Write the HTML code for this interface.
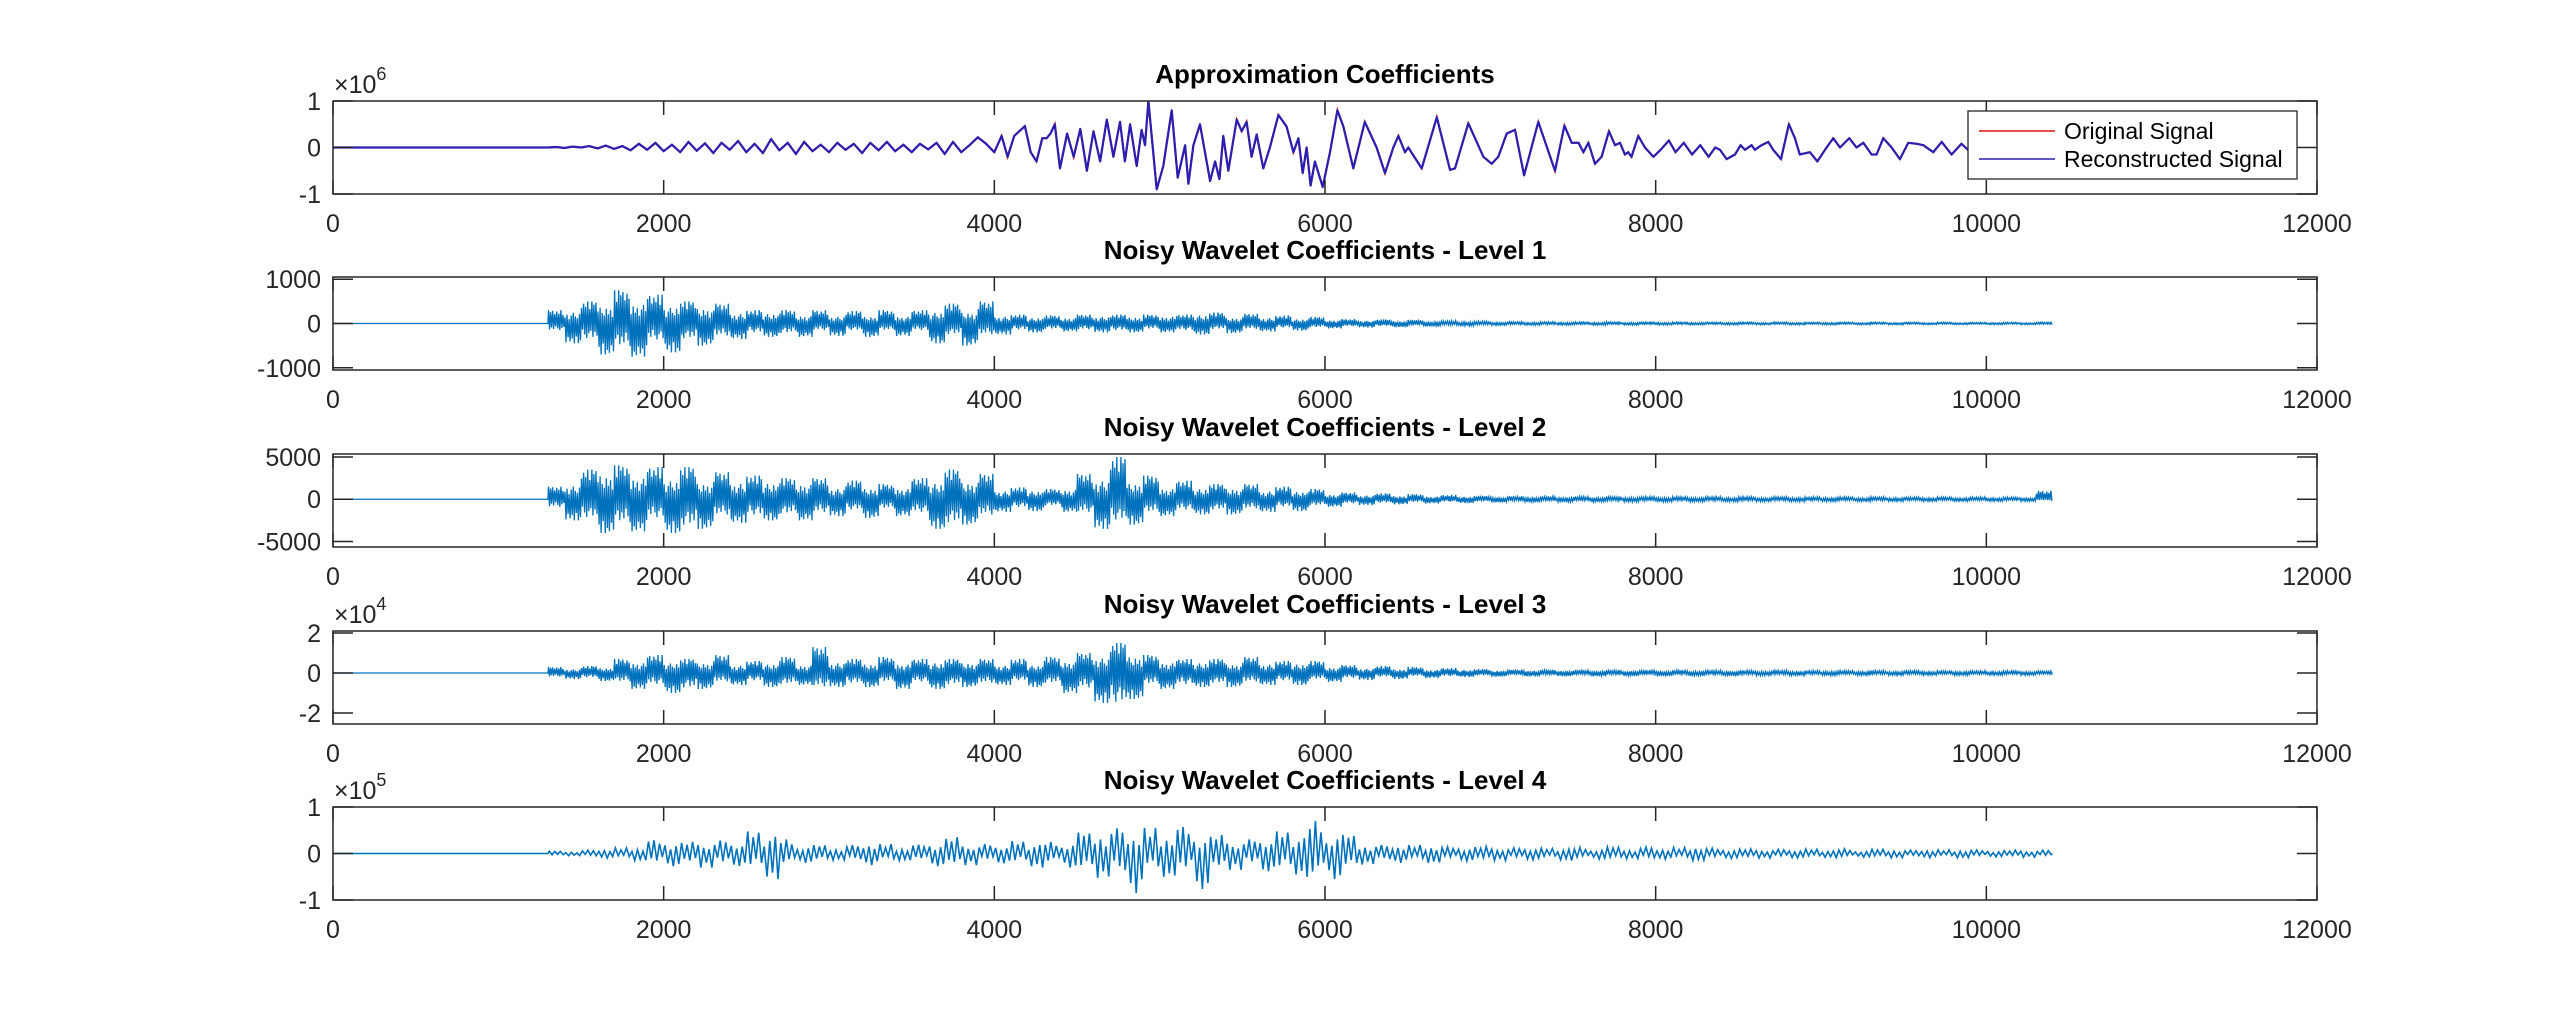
<!DOCTYPE html>
<html><head><meta charset="utf-8"><style>
html,body{margin:0;padding:0;background:#fff;}
svg{display:block;font-family:"Liberation Sans",Arial,sans-serif;}
</style></head><body>
<svg id="fig" width="2560" height="1024" viewBox="0 0 2560 1024" xmlns="http://www.w3.org/2000/svg">
<rect width="2560" height="1024" fill="#fff"/>
</svg>
<script>
// ---------- data ----------
const xTicks = [0,2000,4000,6000,8000,10000,12000];
const xTickLabels = ["0","2000","4000","6000","8000","10000","12000"];
const titles = ["Approximation Coefficients","Noisy Wavelet Coefficients - Level 1","Noisy Wavelet Coefficients - Level 2","Noisy Wavelet Coefficients - Level 3","Noisy Wavelet Coefficients - Level 4"];
const yLims = [[-1,1],[-1050,1050],[-5650,5350],[-2.55,2.1],[-1,1]];
const yTicks = [[-1,0,1],[-1000,0,1000],[-5000,0,5000],[-2,0,2],[-1,0,1]];
const yTickLabels = [["-1","0","1"],["-1000","0","1000"],["-5000","0","5000"],["-2","0","2"],["-1","0","1"]];
const exponents = ["6",null,null,"4","5"];
const legendLabels = ["Original Signal","Reconstructed Signal"];

// approximation coefficients (x sample, value ×1e6)
const apX = [0,1250,1300,1350,1400,1450,1500,1550,1600,1650,1700,1750,
1800,1850,1900,1950,2000,2050,2100,2150,2200,2250,2300,2350,2400,2450,2500,
2550,2600,2650,2700,2750,2800,2850,2900,2950,3000,3050,3100,3150,3200,3250,3300,3350,3400,3450,3500,3550,3600,
3650,3700,3750,3800,3850,3900,3950,4000,
4044,4080,4120,4185,4220,4255,4290,4316,4340,4366,4397,4440,4480,4520,4560,4600,4640,4680,4720,4760,4790,
4821,4861,4891,4911,4932,4982,5022,5073,5109,5154,5174,5204,5244,5305,5335,5361,5385,5415,5466,5496,5526,5556,5587,5627,5667,5718,5768,5809,5839,5865,5889,5913,5939,5986,6030,6075,6111,6171,6241,6312,6363,6413,6444,6484,6504,6585,6676,6756,6786,6867,6958,7008,7048,7099,7149,7204,7290,7391,7448,7492,7533,7563,7593,7633,7673,7718,7754,7784,7814,7834,7854,7895,7935,7986,
8030,8080,8120,8170,8220,8270,8320,8360,
8389,8429,8480,8514,8540,8580,8600,8640,8681,8711,8758,8806,8842,8872,8933,8978,9024,9074,9115,9171,9215,9256,9306,9336,9377,9427,9477,9528,9578,9619,9679,9730,9790,9850,9910,9970,10030,10090,10150,10210,10270,10330,10400];
const apY = [0,0,0,0.01,-0.01,0.02,0,0.03,-0.02,0.04,-0.03,0.03,
-0.06,0.08,-0.05,0.1,-0.08,0.06,-0.1,0.12,-0.07,0.09,-0.12,0.1,-0.05,0.14,-0.1,
0.08,-0.12,0.18,-0.06,0.1,-0.14,0.12,-0.08,0.06,-0.1,0.1,-0.05,0.08,-0.12,0.1,-0.06,0.12,-0.08,0.06,-0.1,0.08,-0.04,
0.1,-0.14,0.12,-0.1,0.05,0.22,0.08,-0.1,
0.25,-0.2,0.25,0.46,-0.1,-0.3,0.2,0.2,0.3,0.5,-0.45,0.3,-0.2,0.4,-0.5,0.35,-0.3,0.6,-0.2,0.55,-0.3,
0.5,-0.4,0.38,0.05,1.0,-0.9,-0.4,0.8,-0.65,0.05,-0.78,0.05,0.5,-0.72,-0.3,-0.68,0.25,-0.5,0.6,0.35,0.55,-0.2,0.28,-0.45,0,0.7,0.45,-0.1,0.2,-0.55,0,-0.82,-0.3,-0.85,-0.1,0.8,0.45,-0.45,0.55,0,-0.55,0,0.25,-0.1,0,-0.45,0.65,-0.48,-0.45,0.52,-0.2,-0.35,-0.2,0.3,0.38,-0.6,0.55,-0.5,0.47,0.1,0.1,-0.1,0.1,-0.35,-0.2,0.35,0.05,0.1,-0.15,-0.1,-0.2,0.25,0,-0.2,
-0.05,0.15,-0.1,0.1,-0.15,0.05,-0.2,0.0,
-0.05,-0.25,-0.15,0.05,-0.05,0.05,-0.05,0.05,0.12,-0.05,-0.25,0.5,0.2,-0.15,-0.1,-0.3,-0.05,0.2,0,0.2,0,0.1,-0.15,-0.15,0.2,0,-0.25,0.1,0.08,0.05,-0.1,0.12,-0.15,0.08,-0.12,0.1,-0.08,0.12,-0.1,0.06,-0.1,0.05,0];

// detail coefficients: per-100-sample bins starting at sample 1300 (max / min)
const binStart = 1300, binWidth = 100, signalEnd = 10400;
const L1hi = [300,400,500,600,750,700,650,600,500,550,450,350,300,350,300,280,300,250,280,250,300,250,300,400,450,400,500,250,200,200,180,200,200,250,200,220,200,250,200,300,250,200,220,200,180,150,150,120,100,100,90,80,80,70,60,60,50,45,40,42,38,40,36,40,35,38,34,36,32,35,30,34,32,30,33,30,28,32,30,28,30,27,29,26,28,27,25,28,26,25,30];
const L1lo = [-250,-450,-550,-700,-850,-750,-600,-650,-550,-500,-450,-350,-320,-300,-350,-300,-250,-280,-250,-300,-250,-280,-250,-450,-400,-500,-400,-250,-220,-200,-200,-180,-220,-200,-250,-200,-200,-200,-250,-250,-200,-220,-200,-180,-150,-160,-140,-110,-100,-90,-90,-80,-70,-70,-60,-55,-50,-42,-40,-38,-40,-36,-38,-35,-36,-34,-35,-32,-34,-30,-32,-30,-30,-28,-30,-29,-28,-30,-27,-28,-26,-28,-25,-27,-26,-25,-26,-24,-25,-26,-30];
const L2hi = [1500,2500,3500,4500,4000,4000,3800,3500,3800,3000,3200,3000,2800,3000,2500,2800,2500,2000,2200,2000,1800,2000,2500,3000,3500,3200,3000,1500,1400,1500,1200,1800,3000,3500,5000,3000,2800,2000,2200,2000,1800,2000,1800,1500,1500,1400,1200,900,800,700,700,600,600,500,500,450,400,380,360,350,340,350,330,340,320,330,310,320,300,310,300,290,300,280,290,280,270,280,270,260,270,260,250,260,250,250,260,250,240,250,1000];
const L2lo = [-1500,-2500,-3500,-4000,-4500,-3800,-3500,-4000,-5000,-3500,-3000,-2800,-3000,-2500,-2800,-2500,-2500,-2000,-2000,-2200,-1800,-2000,-2500,-3500,-4500,-3000,-3000,-1500,-1500,-1400,-1200,-1500,-2500,-3500,-4000,-3000,-2500,-2000,-2000,-1800,-2000,-1800,-1800,-1500,-1400,-1400,-1200,-900,-800,-700,-650,-600,-550,-500,-500,-450,-400,-380,-360,-350,-340,-340,-330,-330,-320,-320,-310,-310,-300,-300,-300,-290,-290,-280,-280,-280,-270,-270,-270,-260,-260,-260,-250,-250,-250,-250,-250,-250,-240,-240,-200];
const L3hi = [0.3,0.3,0.35,0.4,0.7,0.8,0.9,0.8,0.7,0.8,0.9,0.6,0.6,0.7,0.8,0.6,1.3,0.8,0.7,0.7,0.8,0.7,0.7,0.8,0.7,0.8,0.7,0.6,0.7,0.6,0.8,0.9,1.0,1.2,1.5,1.3,0.9,0.8,0.7,0.8,0.7,0.7,0.8,0.7,0.6,0.7,0.6,0.45,0.4,0.35,0.35,0.3,0.3,0.25,0.25,0.25,0.2,0.18,0.17,0.18,0.16,0.17,0.15,0.16,0.15,0.16,0.14,0.15,0.14,0.15,0.13,0.14,0.13,0.14,0.13,0.13,0.12,0.13,0.12,0.13,0.12,0.12,0.12,0.12,0.11,0.12,0.11,0.12,0.11,0.11,0.1];
const L3lo = [-0.3,-0.3,-0.35,-0.4,-0.7,-0.8,-0.9,-1.0,-1.2,-0.8,-0.7,-0.6,-0.6,-0.7,-0.9,-0.6,-1.1,-0.7,-0.8,-0.7,-0.7,-0.8,-0.7,-0.8,-0.9,-0.7,-0.8,-0.6,-0.6,-0.7,-0.8,-1.0,-1.2,-1.5,-2.4,-1.3,-0.9,-0.8,-0.9,-0.7,-0.8,-0.7,-0.7,-0.6,-0.6,-0.6,-0.5,-0.45,-0.4,-0.35,-0.3,-0.3,-0.25,-0.25,-0.25,-0.2,-0.2,-0.18,-0.17,-0.17,-0.16,-0.16,-0.15,-0.16,-0.15,-0.15,-0.14,-0.15,-0.14,-0.14,-0.13,-0.14,-0.13,-0.13,-0.13,-0.13,-0.12,-0.13,-0.12,-0.12,-0.12,-0.12,-0.12,-0.11,-0.11,-0.12,-0.11,-0.11,-0.11,-0.11,-0.1];
const L4hi = [0.05,0.05,0.08,0.1,0.12,0.15,0.3,0.35,0.25,0.3,0.28,0.3,0.5,0.6,0.3,0.2,0.18,0.15,0.2,0.25,0.2,0.15,0.2,0.3,0.35,0.25,0.2,0.22,0.28,0.3,0.25,0.3,0.45,0.6,0.6,0.45,0.55,0.5,0.6,0.5,0.4,0.35,0.3,0.4,0.5,0.55,0.7,0.55,0.4,0.25,0.2,0.2,0.18,0.2,0.15,0.18,0.15,0.15,0.12,0.14,0.12,0.15,0.13,0.12,0.14,0.12,0.15,0.12,0.13,0.18,0.12,0.12,0.1,0.1,0.09,0.1,0.1,0.09,0.1,0.08,0.09,0.1,0.08,0.09,0.08,0.09,0.08,0.08,0.07,0.08,0.07];
const L4lo = [-0.05,-0.05,-0.08,-0.1,-0.12,-0.15,-0.3,-0.3,-0.25,-0.3,-0.3,-0.28,-0.45,-0.55,-0.3,-0.2,-0.2,-0.15,-0.2,-0.25,-0.2,-0.15,-0.2,-0.3,-0.3,-0.25,-0.2,-0.22,-0.28,-0.3,-0.25,-0.3,-0.45,-0.55,-0.6,-0.85,-0.5,-0.5,-0.55,-0.85,-0.4,-0.35,-0.3,-0.4,-0.5,-0.5,-0.65,-0.55,-0.4,-0.25,-0.2,-0.2,-0.18,-0.2,-0.15,-0.18,-0.15,-0.15,-0.12,-0.14,-0.12,-0.15,-0.13,-0.12,-0.14,-0.12,-0.15,-0.12,-0.13,-0.15,-0.12,-0.12,-0.1,-0.1,-0.09,-0.1,-0.1,-0.09,-0.1,-0.08,-0.09,-0.1,-0.08,-0.09,-0.08,-0.09,-0.08,-0.08,-0.07,-0.08,-0.07];

// ---------- layout ----------
const NS = "http://www.w3.org/2000/svg";
const svg = document.getElementById('fig');
const LEFT = 333, RIGHT = 2317, XMAX = 12000;
const tops = [101,277,454,631,807];
const H = 93;
const AX = "#262626";
function X(v){ return LEFT + v*(RIGHT-LEFT)/XMAX; }
function mkY(i){ const lo=yLims[i][0], hi=yLims[i][1]; return v => tops[i] + (hi - v)/(hi - lo)*H; }
function el(tag, attrs, parent){ const e=document.createElementNS(NS,tag); for(const k in attrs) e.setAttribute(k,attrs[k]); (parent||svg).appendChild(e); return e; }

const pattern = [1,0.55,0.85,0.35,0.95,0.5,0.7,0.25,0.9,0.45,0.75,0.6,1,0.4,0.65,0.3];

for (let i=0;i<5;i++){
  const g = el('g',{});
  
  
  const Y = mkY(i), top = tops[i], bot = top+H;
  const clip = el('clipPath',{id:'c'+i}, g);
  el('rect',{x:LEFT,y:top,width:RIGHT-LEFT,height:H}, clip);
  let pts = [];
  if (i===0){
    for (let k=0;k<apX.length;k++) pts.push(X(apX[k]).toFixed(1)+','+Y(apY[k]).toFixed(1));
    const orig = el('polyline',{points:pts.join(' '),fill:'none',stroke:'#e01010','stroke-width':2,'clip-path':'url(#c0)'}, g);
    
    
    const rec = el('polyline',{points:pts.join(' '),fill:'none',stroke:'#2a1fb0','stroke-width':2.2,'stroke-linejoin':'round','clip-path':'url(#c0)'}, g);
    
    
  } else {
    const hiA=[L1hi,L2hi,L3hi,L4hi][i-1], loA=[L1lo,L2lo,L3lo,L4lo][i-1];
    const sub = i===4 ? 6 : 16;
    pts.push(X(0)+','+Y(0)); pts.push(X(binStart)+','+Y(0));
    for (let b=0;b<hiA.length;b++){
      for (let s=0;s<sub;s++){
        const xv = binStart + b*binWidth + (s+0.5)*binWidth/sub;
        if (xv > signalEnd) break;
        const f = pattern[(s + b*3) % pattern.length];
        const v = (s%2===0 ? hiA[b] : loA[b]) * f;
        pts.push(X(xv).toFixed(1)+','+Y(v).toFixed(1));
      }
    }
    pts.push(X(signalEnd)+','+Y(0));
    const line = el('polyline',{points:pts.join(' '),fill:'none',stroke:'#0072BD','stroke-width':i===4?1.6:1.3,'clip-path':'url(#c'+i+')'}, g);
    
    
  }
  const box = el('rect',{x:LEFT,y:top,width:RIGHT-LEFT,height:H,fill:'none',stroke:AX,'stroke-width':1.5}, g);
  
  
  for (let k=0;k<xTicks.length;k++){
    const x = X(xTicks[k]);
    el('line',{x1:x,y1:bot,x2:x,y2:bot-14,stroke:AX,'stroke-width':1.5}, g);
    el('line',{x1:x,y1:top,x2:x,y2:top+14,stroke:AX,'stroke-width':1.5}, g);
    const t = el('text',{x:x,y:bot+38,'font-size':25,fill:AX,'text-anchor':'middle'}, g);
    
    
    t.textContent = xTickLabels[k];
  }
  for (let k=0;k<yTicks[i].length;k++){
    const y = Y(yTicks[i][k]);
    el('line',{x1:LEFT,y1:y,x2:LEFT+20,y2:y,stroke:AX,'stroke-width':1.5}, g);
    el('line',{x1:RIGHT,y1:y,x2:RIGHT-20,y2:y,stroke:AX,'stroke-width':1.5}, g);
    const t = el('text',{x:321,y:y+9,'font-size':25,fill:AX,'text-anchor':'end'}, g);
    
    
    t.textContent = yTickLabels[i][k];
  }
  if (exponents[i]){
    const t = el('text',{x:334,y:top-8,'font-size':25,fill:AX}, g);
    
    
    t.textContent = '\u00d710';
    const s = el('tspan',{dy:-13,'font-size':18}, t);
    s.textContent = exponents[i];
  }
  const tt = el('text',{x:(LEFT+RIGHT)/2,y:top-18,'font-size':26,'font-weight':'bold',fill:'#000','text-anchor':'middle'}, g);
  
  
  tt.textContent = titles[i];
}

const lg = el('g',{});


el('rect',{x:1968,y:111,width:329,height:68,fill:'#fff',stroke:AX,'stroke-width':1.3}, lg);
const legColors = ['#e01010','#2a1fb0'];
const legY = [131,159];
for (let k=0;k<2;k++){
  const e = el('g',{}, lg);
  
  
  el('line',{x1:1979,y1:legY[k],x2:2055,y2:legY[k],stroke:legColors[k],'stroke-width':1.6}, e);
  const t = el('text',{x:2064,y:legY[k]+8,'font-size':23,fill:'#000'}, e);
  t.textContent = legendLabels[k];
}
</script>
</body></html>
